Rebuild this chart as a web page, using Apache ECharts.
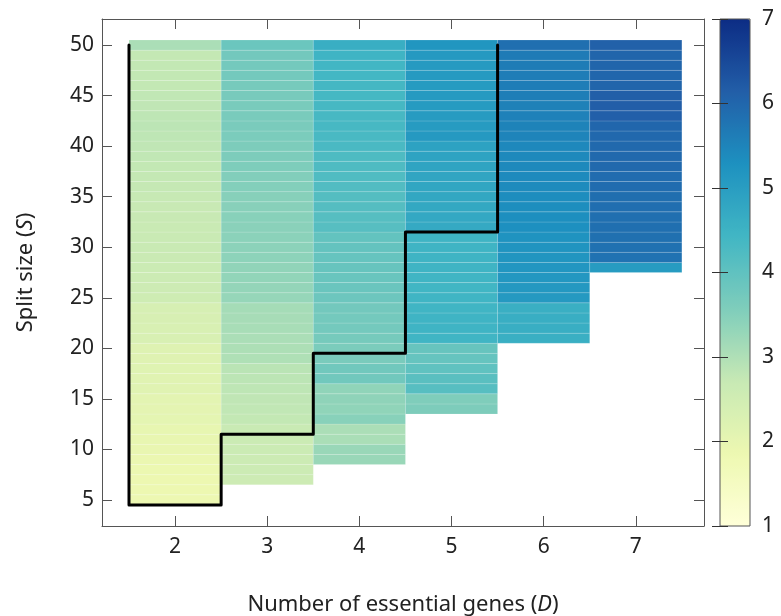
<!DOCTYPE html>
<html>
<head>
<meta charset="utf-8">
<script src="https://cdn.jsdelivr.net/npm/echarts@6/dist/echarts.min.js"></script>
<style>html,body{margin:0;padding:0;background:#fff;}#c{width:781px;height:616px;}</style>
</head>
<body>
<div id="c"></div>
<script>
// ---- data ----
var genes = [2, 3, 4, 5, 6, 7];
var minSplit = [5, 7, 9, 14, 21, 28]; // first split size present for each D (values run up to 50)
var valsD2 = [1.84,1.85,1.86,1.88,1.90,1.95,1.97,1.99,2.05,2.07,2.09,2.14,2.16,2.17,2.18,2.20,2.32,2.34,2.35,2.37,2.55,2.58,2.60,2.62,2.64,2.66,2.68,2.68,2.70,2.70,2.72,2.74,2.75,2.76,2.78,2.80,2.82,2.84,2.82,2.80,2.78,2.76,2.76,2.76,2.75,3.05];
var valsD3 = [2.58,2.60,2.60,2.62,2.62,2.68,2.76,2.78,2.80,2.82,2.85,2.87,3.00,3.02,3.05,3.08,3.10,3.12,3.30,3.32,3.34,3.36,3.40,3.42,3.43,3.44,3.46,3.47,3.48,3.52,3.54,3.58,3.60,3.60,3.62,3.64,3.65,3.66,3.67,3.68,3.72,3.72,3.74,3.85];
var valsD4 = [3.26,3.26,3.06,3.05,3.46,3.37,3.38,3.37,3.76,3.76,3.64,3.62,3.70,3.72,3.72,3.74,3.82,3.86,3.88,3.90,3.92,3.94,3.96,4.12,4.14,4.15,4.16,4.20,4.22,4.24,4.25,4.30,4.32,4.34,4.35,4.36,4.37,4.38,4.40,4.42,4.48,4.62];
var valsD5 = [3.60,3.57,4.12,4.08,4.00,3.92,3.90,4.45,4.47,4.47,4.46,4.45,4.44,4.46,4.47,4.48,4.47,4.48,4.72,4.75,4.76,4.78,4.80,4.82,4.85,4.88,4.90,5.10,5.05,5.05,5.06,5.07,5.06,5.08,5.08,5.10,5.18];
var valsD6 = [4.60,4.62,4.62,4.60,5.10,5.12,5.14,5.16,5.20,5.22,5.24,5.30,5.32,5.34,5.36,5.38,5.40,5.42,5.42,5.44,5.50,5.52,5.55,5.56,5.60,5.62,5.62,5.64,5.65,5.85];
var valsD7 = [5.05,5.80,5.82,5.84,5.85,5.86,5.87,5.88,5.90,5.90,5.95,5.96,5.95,5.98,6.00,6.12,6.14,6.13,6.02,6.00,6.02,6.03,6.10];
var boundaryD = [1.5, 1.5, 2.5, 2.5, 3.5, 3.5, 4.5, 4.5, 5.5, 5.5];
var boundaryS = [50, 4.5, 4.5, 11.5, 11.5, 19.5, 19.5, 31.5, 31.5, 50];
var xTicks = [2, 3, 4, 5, 6, 7];
var yTicks = [5, 10, 15, 20, 25, 30, 35, 40, 45, 50];
var cbTicks = [1, 2, 3, 4, 5, 6, 7];
var palette = ['#ffffd9','#edf8b1','#c7e9b4','#7fcdbb','#41b6c4','#1d91c0','#225ea8','#0c2c84'];

// ---- build ----
var allVals = [valsD2, valsD3, valsD4, valsD5, valsD6, valsD7];
var cells = [];
genes.forEach(function (d, i) {
  allVals[i].forEach(function (v, j) { cells.push([d, minSplit[i] + j, v]); });
});
var boundary = boundaryD.map(function (d, i) { return [d, boundaryS[i]]; });

var FONT = 'Noto Sans';
var FS = 21;
var NFS = 22;
var axisCol = '#555';
var txtCol = '#222';
var rich = {n: {fontSize: NFS, color: txtCol, fontFamily: FONT}, i: {fontSize: NFS, color: txtCol, fontFamily: FONT, fontStyle: 'italic'}};
var chart = echarts.init(document.getElementById('c'), null, {renderer: 'canvas'});
chart.setOption({
  animation: false,
  backgroundColor: '#fff',
  textStyle: {fontFamily: FONT},
  grid: [
    {left: 102, right: 77, top: 19, bottom: 90, outerBoundsMode: 'none', containLabel: false},
    {left: 720, top: 19, width: 30, height: 507, show: true, borderColor: axisCol, borderWidth: 1, backgroundColor: 'transparent', z: 10, outerBoundsMode: 'none', containLabel: false}
  ],
  xAxis: [
    {type: 'value', gridIndex: 0, min: 1.207, max: 7.74, position: 'bottom',
     axisLine: {show: true, onZero: false, lineStyle: {color: axisCol}},
     axisTick: {show: true, inside: true, length: 10, customValues: xTicks, lineStyle: {color: axisCol}},
     axisLabel: {customValues: xTicks, color: txtCol, fontSize: FS, fontFamily: FONT, margin: 11},
     splitLine: {show: false},
     name: '{n|Number of essential genes (}{i|D}{n|)}', nameLocation: 'middle', nameGap: 68,
     nameTextStyle: {rich: rich}},
    {type: 'value', gridIndex: 0, min: 1.207, max: 7.74, position: 'top',
     axisLine: {show: true, onZero: false, lineStyle: {color: axisCol}},
     axisTick: {show: true, inside: true, length: 10, customValues: xTicks, lineStyle: {color: axisCol}},
     axisLabel: {show: false}, splitLine: {show: false}},
    {type: 'value', gridIndex: 1, min: 0, max: 1, show: false}
  ],
  yAxis: [
    {type: 'value', gridIndex: 0, min: 2.42, max: 52.58, position: 'left',
     axisLine: {show: true, onZero: false, lineStyle: {color: axisCol}},
     axisTick: {show: true, inside: true, length: 10, customValues: yTicks, lineStyle: {color: axisCol}},
     axisLabel: {customValues: yTicks, color: txtCol, fontSize: FS, fontFamily: FONT, margin: 8},
     splitLine: {show: false},
     name: '{n|Split size (}{i|S}{n|)}', nameLocation: 'middle', nameGap: 65,
     nameTextStyle: {rich: rich}},
    {type: 'value', gridIndex: 0, min: 2.42, max: 52.58, position: 'right',
     axisLine: {show: true, onZero: false, lineStyle: {color: axisCol}},
     axisTick: {show: true, inside: true, length: 10, customValues: yTicks, lineStyle: {color: axisCol}},
     axisLabel: {show: false}, splitLine: {show: false}},
    {type: 'value', gridIndex: 1, min: 1, max: 7, position: 'right', z: 10,
     axisLine: {show: false},
     axisTick: {show: true, inside: true, length: 8, customValues: cbTicks, lineStyle: {color: '#333'}},
     axisLabel: {customValues: cbTicks, color: txtCol, fontSize: FS, fontFamily: FONT, margin: 12},
     splitLine: {show: false}},
    {type: 'value', gridIndex: 1, min: 1, max: 7, position: 'left', z: 10,
     axisLine: {show: false},
     axisTick: {show: true, inside: true, length: 8, customValues: cbTicks, lineStyle: {color: '#333'}},
     axisLabel: {show: false}, splitLine: {show: false}}
  ],
  visualMap: {
    type: 'continuous', min: 1, max: 7, seriesIndex: 0, dimension: 2,
    left: 720, top: 19, itemWidth: 30, itemHeight: 507, padding: 0,
    calculable: false, text: null, showLabel: false, realtime: false, hoverLink: false,
    inRange: {color: palette}
  },
  series: [
    {type: 'custom', xAxisIndex: 0, yAxisIndex: 0, data: cells, encode: {x: 0, y: 1},
     renderItem: function (params, api) {
       var d = api.value(0), s = api.value(1);
       var p1 = api.coord([d - 0.5, s + 0.5]);
       var p2 = api.coord([d + 0.5, s - 0.5]);
       return {type: 'rect', shape: {x: p1[0], y: p1[1], width: p2[0] - p1[0], height: p2[1] - p1[1]},
               style: {fill: api.visual('color'), stroke: 'rgba(255,255,255,0.18)', lineWidth: 0.8}};
     }},
    {type: 'line', xAxisIndex: 0, yAxisIndex: 0, data: boundary, symbol: 'none', z: 5,
     lineStyle: {color: '#000', width: 3, join: 'round', cap: 'round'}}
  ]
});
</script>
</body>
</html>
